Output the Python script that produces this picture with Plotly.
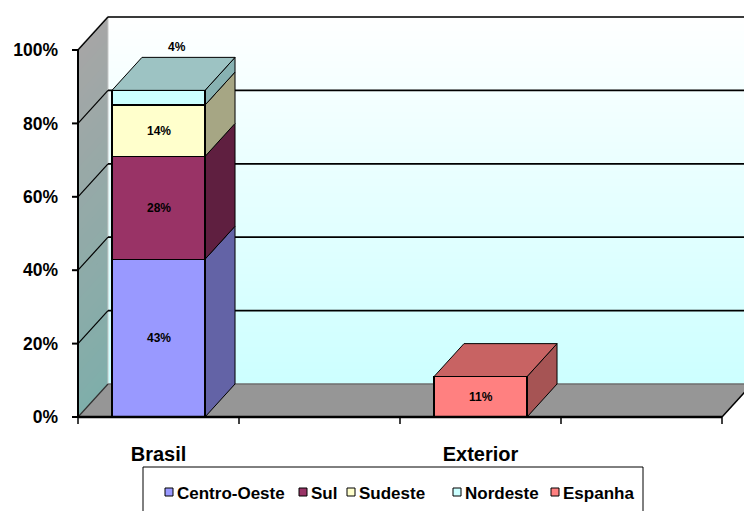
import plotly.graph_objects as go

# ---- data -------------------------------------------------------------
categories = ["Brasil", "Exterior"]
cat_slots = [0, 2]          # position of each category on a 4-slot axis
n_slots = 4

series_names = ["Centro-Oeste", "Sul", "Sudeste", "Nordeste", "Espanha"]
centro_oeste = [43, None]
sul = [28, None]
sudeste = [14, None]
nordeste = [4, None]
espanha = [None, 11]
series_values = [centro_oeste, sul, sudeste, nordeste, espanha]

y_tick_vals = [0, 20, 40, 60, 80, 100]
y_tick_text = ["0%", "20%", "40%", "60%", "80%", "100%"]

# ---- styling ----------------------------------------------------------
front_colors = ["#9999FF", "#993366", "#FFFFCC", "#CCFFFF", "#FF8080"]
side_colors = ["#6363A6", "#5F1F40", "#A6A684", "#88B2B2", "#A65454"]
top_colors = ["#7A7ACC", "#7A2952", "#CCCCA3", "#9DC3C3", "#C86363"]

FONT = "Arial, 'Liberation Sans', sans-serif"
W, H = 744, 511
M_L, M_R, M_T, M_B = 70, 0, 10, 79
PX_PER_SLOT = 161.0
PX_PER_PCT = 3.67
X_MIN = -0.5 - (78 - M_L) / PX_PER_SLOT
X_MAX = X_MIN + (W - M_L - M_R) / PX_PER_SLOT
Y_MIN = -(H - M_B - 417) / PX_PER_PCT
Y_MAX = (417 - M_T) / PX_PER_PCT

DX = 30 / PX_PER_SLOT       # depth of the 3-D box, x units
DY = 33 / PX_PER_PCT        # depth of the 3-D box, y units
BAR_W = 0.578
X0, X1 = -0.5, n_slots - 0.5


def hex_rgb(c):
    c = c.lstrip("#")
    return [int(c[i:i + 2], 16) for i in (0, 2, 4)]


def lerp(c1, c2, t):
    a, b = hex_rgb(c1), hex_rgb(c2)
    return "rgb({},{},{})".format(*[round(a[i] + (b[i] - a[i]) * t) for i in range(3)])


def poly(pts, fill, line="black", lw=1.0, layer="below"):
    path = "M " + " L ".join(f"{x},{y}" for x, y in pts) + " Z"
    return dict(type="path", path=path, xref="x", yref="y", fillcolor=fill,
                line=dict(color=line, width=lw), layer=layer)


def seg(x0, y0, x1, y1, color="black", lw=1.5, layer="below"):
    return dict(type="line", xref="x", yref="y", x0=x0, y0=y0, x1=x1, y1=y1,
                line=dict(color=color, width=lw), layer=layer)


shapes = []

# floor
shapes.append(poly([(X0, 0), (X1, 0), (X1 + DX, DY), (X0 + DX, DY)], "#969696",
                   line="#969696", lw=0.5))
shapes.append(seg(X1, 0, X1 + DX, DY, "black", 1.5))

# back wall: vertical gradient white -> light cyan
N = 50
for k in range(N):
    v0, v1 = 100 * k / N, 100 * (k + 1) / N
    shapes.append(dict(type="rect", xref="x", yref="y", x0=X0 + DX, x1=X1 + DX + 0.2,
                       y0=DY + v0, y1=DY + v1 + 0.4, line=dict(width=0),
                       fillcolor=lerp("#CCFFFF", "#FFFFFF", (v0 + v1) / 200), layer="below"))

# side wall: gray gradient
for k in range(N):
    v0, v1 = 100 * k / N, 100 * (k + 1) / N
    shapes.append(poly([(X0, v0), (X0 + DX, v0 + DY), (X0 + DX, v1 + DY + 0.4), (X0, v1 + 0.4)],
                       lerp("#7FAEAA", "#A6A6A6", (v0 + v1) / 200), line="rgba(0,0,0,0)", lw=0))
shapes.append(seg(X0 + DX, DY, X0 + DX, 100 + DY, "#C8C8C8", 1))

# gridlines on back wall and side wall
for v in y_tick_vals:
    if v == 0:
        shapes.append(seg(X0 + DX, DY, X1 + DX, DY, "#6E6E6E", 1.5))
        shapes.append(seg(X0, 0, X0 + DX, DY, "#303030", 1.2))
        continue
    col = "#3A3A3A" if v == 100 else "black"
    shapes.append(seg(X0 + DX, v + DY, X1 + DX + 0.2, v + DY, col, 1.8))
    shapes.append(seg(X0, v, X0 + DX, v + DY, "black", 1.2))

# 3-D side and top faces of the stacked columns, from the same values as the bars
annotations = []
for ci, slot in enumerate(cat_slots):
    base = 0.0
    bx0, bx1 = slot - BAR_W / 2, slot + BAR_W / 2
    segs = []
    for si, vals in enumerate(series_values):
        v = vals[ci]
        if v is None:
            continue
        segs.append((si, base, base + v))
        base += v
    for si, b, t in segs:
        shapes.append(poly([(bx1, b), (bx1 + DX, b + DY), (bx1 + DX, t + DY), (bx1, t)],
                           side_colors[si]))
    if segs:
        si, b, t = segs[-1]
        shapes.append(poly([(bx0, t), (bx1, t), (bx1 + DX, t + DY), (bx0 + DX, t + DY)],
                           top_colors[si]))
    for si, b, t in segs:
        v = t - b
        if v >= 6:
            ax, ay = slot, (b + t) / 2
        else:
            ax, ay = slot + DX * 0.6, t + DY + 2.8
        annotations.append(dict(x=ax, y=ay, xref="x", yref="y", text=f"<b>{v:g}%</b>",
                                showarrow=False, font=dict(family=FONT, size=12, color="black")))

# axis lines and tick marks
shapes.append(seg(X0, 0, X0, 100, "black", 2, layer="above"))
shapes.append(seg(X0, 0, X1, 0, "black", 2.5, layer="above"))
for v in y_tick_vals:
    shapes.append(dict(type="line", xref="x", yref="y", xsizemode="pixel", xanchor=X0,
                       x0=-6, x1=0, y0=v, y1=v, line=dict(color="black", width=2), layer="above"))
for k in range(n_slots + 1):
    shapes.append(dict(type="line", xref="x", yref="y", ysizemode="pixel", yanchor=0,
                       x0=X0 + k, x1=X0 + k, y0=0, y1=-7,
                       line=dict(color="black", width=1.5), layer="above"))

# legend drawn as a boxed row of swatches
plot_w, plot_h = W - M_L - M_R, H - M_T - M_B


def px(xp):
    return (xp - M_L) / plot_w


def py(yp):
    return (H - M_B - yp) / plot_h


legend_left = [165, 299, 347, 453, 551]
shapes.append(dict(type="rect", xref="paper", yref="paper", x0=px(143), x1=px(643),
                   y0=py(467), y1=py(530), line=dict(color="black", width=1),
                   fillcolor="white", layer="above"))
for i, name in enumerate(series_names):
    lx = legend_left[i]
    shapes.append(dict(type="rect", xref="paper", yref="paper", x0=px(lx), x1=px(lx + 8),
                       y0=py(496), y1=py(488), fillcolor=front_colors[i],
                       line=dict(color="black", width=1), layer="above"))
    annotations.append(dict(x=px(lx + 10), y=py(493), xref="paper", yref="paper",
                            xanchor="left", yanchor="middle", text=f"<b>{name}</b>",
                            showarrow=False, font=dict(family=FONT, size=17, color="black")))

fig = go.Figure()
for si, name in enumerate(series_names):
    fig.add_trace(go.Bar(
        x=cat_slots, y=series_values[si], name=name, width=BAR_W,
        marker=dict(color=front_colors[si], line=dict(color="black", width=1.2)),
        showlegend=False,
    ))

fig.update_layout(
    width=W, height=H, barmode="stack",
    margin=dict(l=M_L, r=M_R, t=M_T, b=M_B),
    paper_bgcolor="white", plot_bgcolor="white",
    shapes=shapes, annotations=annotations,
    font=dict(family=FONT, color="black"),
    xaxis=dict(range=[X_MIN, X_MAX], showgrid=False, zeroline=False, showline=False,
               tickvals=cat_slots, ticktext=[f"<b>{c}</b>" for c in categories],
               ticks="", tickfont=dict(family=FONT, size=20, color="black"),
               ticklabelstandoff=8),
    yaxis=dict(range=[Y_MIN, Y_MAX], showgrid=False, zeroline=False, showline=False,
               tickvals=y_tick_vals, ticktext=[f"<b>{t}</b>" for t in y_tick_text],
               ticks="", tickfont=dict(family=FONT, size=17.5, color="black"),
               ticklabelstandoff=11),
)

fig.write_html("out.html")
